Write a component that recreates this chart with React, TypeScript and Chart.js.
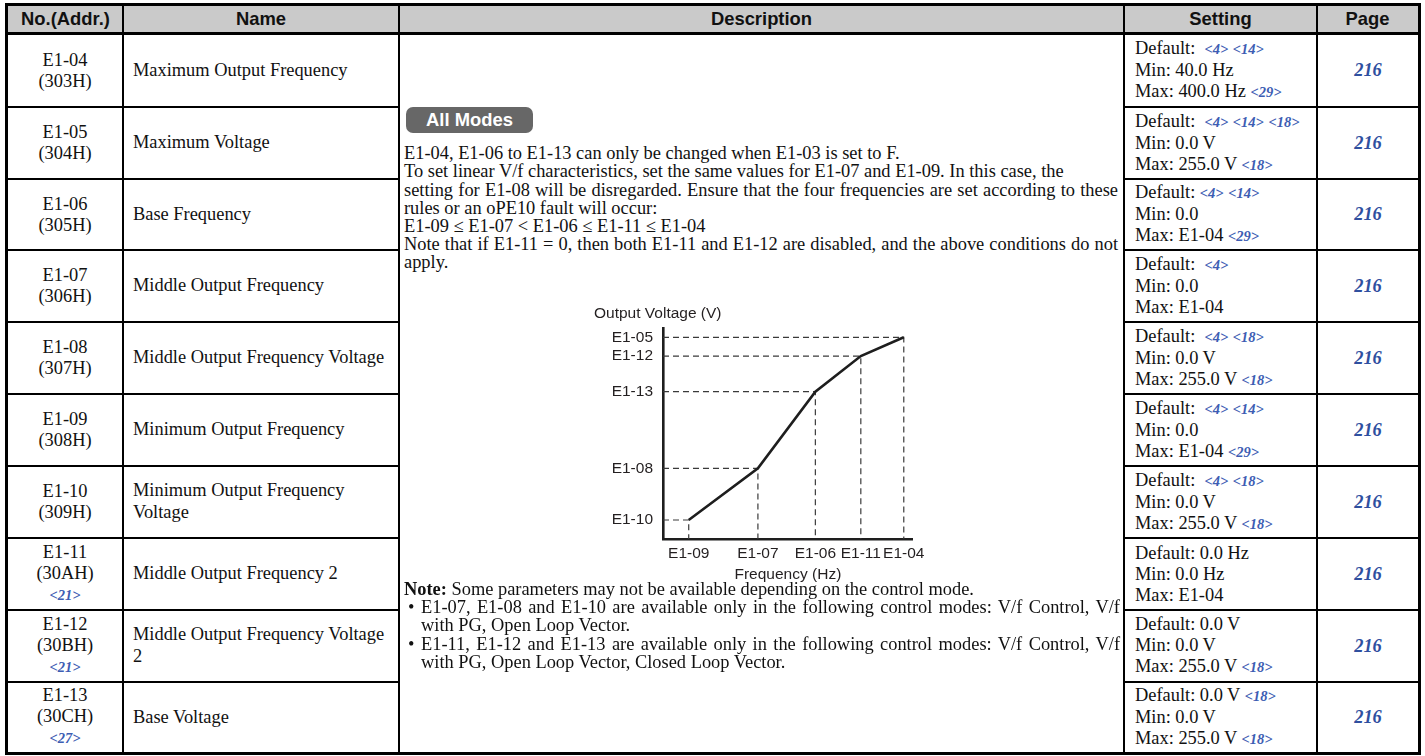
import React, { useEffect, useRef } from 'react';
import { Chart, registerables } from 'chart.js';

Chart.register(...registerables);

// ---------- chart data (V/f pattern) ----------
const freqLabels = ['E1-09', 'E1-07', 'E1-06', 'E1-11', 'E1-04'];
const freqValues = [10.3, 38.0, 61.0, 79.2, 96.4];
const voltLabels = ['E1-10', 'E1-08', 'E1-13', 'E1-12', 'E1-05'];
const voltValues = [9.0, 33.5, 69.8, 86.7, 95.6];
const axisMin = 0;
const axisMax = 100;
const yAxisTitle = 'Output Voltage (V)';
const xAxisTitle = 'Frequency (Hz)';

// ---------- table data ----------
const headers = ['No.(Addr.)', 'Name', 'Description', 'Setting', 'Page'];
const paramNos = ['E1-04', 'E1-05', 'E1-06', 'E1-07', 'E1-08', 'E1-09', 'E1-10', 'E1-11', 'E1-12', 'E1-13'];
const paramAddrs = ['303H', '304H', '305H', '306H', '307H', '308H', '309H', '30AH', '30BH', '30CH'];
const paramRefs = ['', '', '', '', '', '', '', '<21>', '<21>', '<27>'];
const paramNames = [
  'Maximum Output Frequency',
  'Maximum Voltage',
  'Base Frequency',
  'Middle Output Frequency',
  'Middle Output Frequency Voltage',
  'Minimum Output Frequency',
  'Minimum Output Frequency\nVoltage',
  'Middle Output Frequency 2',
  'Middle Output Frequency Voltage\n2',
  'Base Voltage',
];
const settingDefaults = [
  'Default:  <4> <14>',
  'Default:  <4> <14> <18>',
  'Default: <4> <14>',
  'Default:  <4>',
  'Default:  <4> <18>',
  'Default:  <4> <14>',
  'Default:  <4> <18>',
  'Default: 0.0 Hz',
  'Default: 0.0 V',
  'Default: 0.0 V <18>',
];
const settingMins = ['Min: 40.0 Hz', 'Min: 0.0 V', 'Min: 0.0', 'Min: 0.0', 'Min: 0.0 V', 'Min: 0.0', 'Min: 0.0 V', 'Min: 0.0 Hz', 'Min: 0.0 V', 'Min: 0.0 V'];
const settingMaxs = [
  'Max: 400.0 Hz <29>',
  'Max: 255.0 V <18>',
  'Max: E1-04 <29>',
  'Max: E1-04',
  'Max: 255.0 V <18>',
  'Max: E1-04 <29>',
  'Max: 255.0 V <18>',
  'Max: E1-04',
  'Max: 255.0 V <18>',
  'Max: 255.0 V <18>',
];
const pages = ['216', '216', '216', '216', '216', '216', '216', '216', '216', '216'];
const modeBadge = 'All Modes';
const descLines = [
  'E1-04, E1-06 to E1-13 can only be changed when E1-03 is set to F.',
  'To set linear V/f characteristics, set the same values for E1-07 and E1-09. In this case, the',
  'setting for E1-08 will be disregarded. Ensure that the four frequencies are set according to these',
  'rules or an oPE10 fault will occur:',
  'E1-09 ≤ E1-07 < E1-06 ≤ E1-11 ≤ E1-04',
  'Note that if E1-11 = 0, then both E1-11 and E1-12 are disabled, and the above conditions do not',
  'apply.',
];
const descJustified = [false, false, true, false, false, true, false];
const noteLead = 'Note:';
const noteText = ' Some parameters may not be available depending on the control mode.';
const bulletLines = [
  ['E1-07, E1-08 and E1-10 are available only in the following control modes: V/f Control, V/f', 'with PG, Open Loop Vector.'],
  ['E1-11, E1-12 and E1-13 are available only in the following control modes: V/f Control, V/f', 'with PG, Open Loop Vector, Closed Loop Vector.'],
];

// ---------- style constants ----------
const SERIF = "'Liberation Serif', 'Times New Roman', serif";
const SANS = "'Liberation Sans', Arial, sans-serif";
const INK = '#111111';
const BLUE = '#3d5db3';
const PAGE_BLUE = '#2f4f9f';
const FS = 18.4;

const colLines = [123, 399, 1124, 1317];
const rowLines = [107, 179, 250, 322, 394, 466, 538, 610, 682];
const TABLE_L = 5, TABLE_T = 3, TABLE_R = 1421, TABLE_B = 755;

function RefText({ text }: { text: string }) {
  const parts = text.split(/(<\d+>)/);
  return (
    <>
      {parts.map((p, i) =>
        /^<\d+>$/.test(p) ? (
          <span key={i} style={{ color: BLUE, fontStyle: 'italic', fontWeight: 'bold', fontSize: 14.5 }}>{p}</span>
        ) : (
          <span key={i}>{p}</span>
        )
      )}
    </>
  );
}

function VfChart() {
  const ref = useRef<HTMLCanvasElement>(null);
  useEffect(() => {
    if (!ref.current) return;
    const font = { family: SANS, size: 15.5 };
    const color = '#231f20';
    const guides = freqValues.map((fx, i) => ({
      data: [
        { x: axisMin, y: voltValues[i] },
        { x: fx, y: voltValues[i] },
        { x: fx, y: axisMin },
      ],
      showLine: true,
      borderColor: '#3a3a3a',
      borderWidth: 1.2,
      borderDash: [6, 4],
      pointRadius: 0,
      tension: 0,
      order: 2,
    }));
    const chart = new Chart(ref.current, {
      type: 'scatter',
      data: {
        datasets: [
          {
            data: freqValues.map((x, i) => ({ x, y: voltValues[i] })),
            showLine: true,
            borderColor: '#1e1e1e',
            borderWidth: 2.6,
            pointRadius: 0,
            tension: 0,
            order: 1,
          } as any,
          ...(guides as any[]),
        ],
      },
      options: {
        animation: false,
        responsive: false,
        maintainAspectRatio: false,
        layout: { padding: { left: 24, right: 15, top: 0, bottom: 0 } },
        plugins: {
          legend: { display: false },
          tooltip: { enabled: false },
          title: {
            display: true,
            text: yAxisTitle,
            align: 'start',
            color,
            font: { ...font, weight: 'normal' },
            padding: { top: 4, bottom: 5.4 },
          },
        },
        scales: {
          x: {
            type: 'linear',
            min: axisMin,
            max: axisMax,
            afterBuildTicks: (s: any) => {
              s.ticks = freqValues.map((v) => ({ value: v }));
            },
            afterFit: (s: any) => {
              s.height = 51;
            },
            ticks: {
              autoSkip: false,
              maxRotation: 0,
              minRotation: 0,
              padding: 5,
              color,
              font,
              callback: (_v: any, i: number) => freqLabels[i],
            },
            grid: { display: false, drawTicks: false },
            border: { display: true, color: '#1e1e1e', width: 2.6 },
            title: { display: true, text: xAxisTitle, color, font, padding: { top: 0, bottom: 6 } },
          },
          y: {
            type: 'linear',
            min: axisMin,
            max: axisMax,
            afterBuildTicks: (s: any) => {
              s.ticks = voltValues.map((v) => ({ value: v }));
            },
            afterFit: (s: any) => {
              s.width = 69;
            },
            ticks: {
              autoSkip: false,
              padding: 10,
              color,
              font,
              callback: (_v: any, i: number) => voltLabels[i],
            },
            grid: { display: false, drawTicks: false },
            border: { display: true, color: '#1e1e1e', width: 2.6 },
          },
        },
      } as any,
    });
    return () => chart.destroy();
  }, []);
  return (
    <canvas
      ref={ref}
      width={360}
      height={290}
      style={{ position: 'absolute', left: 570, top: 300, width: 360, height: 290 }}
    />
  );
}

export default function App() {
  const rowTop = (i: number) => (i === 0 ? 35 : rowLines[i - 1] + 1);
  const rowBottom = (i: number) => (i === rowLines.length ? TABLE_B - 3 : rowLines[i] - 1);
  const headerCols = [TABLE_L + 3, ...colLines, TABLE_R - 3];

  const lines: React.ReactNode[] = [];
  lines.push(
    <div key="outer" style={{ position: 'absolute', left: TABLE_L, top: TABLE_T, width: TABLE_R - TABLE_L, height: TABLE_B - TABLE_T, border: '3px solid #000', boxSizing: 'border-box' }} />
  );
  lines.push(<div key="hdr" style={{ position: 'absolute', left: TABLE_L, top: 32, width: TABLE_R - TABLE_L, height: 3, background: '#000' }} />);
  colLines.forEach((x, i) =>
    lines.push(<div key={'c' + i} style={{ position: 'absolute', left: x - 1, top: TABLE_T, width: 2.4, height: TABLE_B - TABLE_T, background: '#000' }} />)
  );
  rowLines.forEach((y, i) => {
    lines.push(<div key={'ra' + i} style={{ position: 'absolute', left: TABLE_L, top: y - 1, width: colLines[1] - TABLE_L + 1, height: 2.4, background: '#000' }} />);
    lines.push(<div key={'rb' + i} style={{ position: 'absolute', left: colLines[2], top: y - 1, width: TABLE_R - colLines[2], height: 2.4, background: '#000' }} />);
  });

  const cellBase: React.CSSProperties = {
    position: 'absolute',
    display: 'flex',
    flexDirection: 'column',
    justifyContent: 'center',
    fontFamily: SERIF,
    fontSize: FS,
    color: INK,
    lineHeight: '21px',
    whiteSpace: 'pre',
  };

  return (
    <div style={{ position: 'absolute', left: 0, top: 0, width: 1425, height: 756, background: '#fff', overflow: 'hidden' }}>
      <div style={{ position: 'absolute', left: TABLE_L, top: TABLE_T, width: TABLE_R - TABLE_L, height: 30, background: '#cacaca' }} />
      {headers.map((h, i) => (
        <div
          key={h}
          style={{
            position: 'absolute',
            left: headerCols[i],
            top: 6,
            width: headerCols[i + 1] - headerCols[i],
            height: 26,
            display: 'flex',
            alignItems: 'center',
            justifyContent: 'center',
            fontFamily: SANS,
            fontWeight: 'bold',
            fontSize: FS,
            color: INK,
          }}
        >
          {h}
        </div>
      ))}

      {paramNos.map((no, i) => {
        const top = rowTop(i);
        const h = rowBottom(i) - top;
        return (
          <React.Fragment key={no}>
            <div style={{ ...cellBase, left: 8, top, width: 114, height: h, alignItems: 'center', textAlign: 'center' }}>
              <div>{no}</div>
              <div>({paramAddrs[i]})</div>
              {paramRefs[i] && (
                <div style={{ color: BLUE, fontStyle: 'italic', fontWeight: 'bold', fontSize: 14.5, lineHeight: '23px' }}>{paramRefs[i]}</div>
              )}
            </div>
            <div style={{ ...cellBase, left: 133, top, width: 262, height: h, lineHeight: '21.7px' }}>
              {paramNames[i].split('\n').map((ln, k) => (
                <div key={k}>{ln}</div>
              ))}
            </div>
            <div style={{ ...cellBase, left: 1135, top, width: 180, height: h }}>
              <div><RefText text={settingDefaults[i]} /></div>
              <div><RefText text={settingMins[i]} /></div>
              <div><RefText text={settingMaxs[i]} /></div>
            </div>
            <div style={{ ...cellBase, left: 1318, top, width: 100, height: h, alignItems: 'center' }}>
              <div style={{ color: PAGE_BLUE, fontWeight: 'bold', fontStyle: 'italic' }}>{pages[i]}</div>
            </div>
          </React.Fragment>
        );
      })}

      <div
        style={{
          position: 'absolute',
          left: 406,
          top: 107,
          width: 127,
          height: 26,
          borderRadius: 7,
          background: '#676767',
          color: '#fff',
          fontFamily: SANS,
          fontWeight: 'bold',
          fontSize: 18.4,
          display: 'flex',
          alignItems: 'center',
          justifyContent: 'center',
        }}
      >
        {modeBadge}
      </div>
      <div style={{ position: 'absolute', left: 404, top: 144.2, fontFamily: SERIF, fontSize: FS, color: INK, lineHeight: '18.2px' }}>
        {descLines.map((ln, i) => (
          <div
            key={i}
            style={{
              whiteSpace: 'nowrap',
              width: descJustified[i] ? 714 : undefined,
              textAlign: descJustified[i] ? 'justify' : 'left',
              textAlignLast: descJustified[i] ? 'justify' : 'auto',
            } as React.CSSProperties}
          >
            {ln}
          </div>
        ))}
      </div>

      <VfChart />

      <div style={{ position: 'absolute', left: 404, top: 580, fontFamily: SERIF, fontSize: FS, color: INK, lineHeight: '18.2px' }}>
        <div style={{ whiteSpace: 'nowrap' }}>
          <b>{noteLead}</b>
          {noteText}
        </div>
        {bulletLines.map((bl, i) => (
          <div key={i} style={{ position: 'relative' }}>
            <span style={{ position: 'absolute', left: 4, top: 0 }}>•</span>
            {bl.map((ln, k) => (
              <div
                key={k}
                style={{
                  marginLeft: 17,
                  whiteSpace: 'nowrap',
                  width: k === 0 ? 699 : undefined,
                  textAlign: k === 0 ? 'justify' : 'left',
                  textAlignLast: k === 0 ? 'justify' : 'auto',
                } as React.CSSProperties}
              >
                {ln}
              </div>
            ))}
          </div>
        ))}
      </div>

      {lines}
    </div>
  );
}
